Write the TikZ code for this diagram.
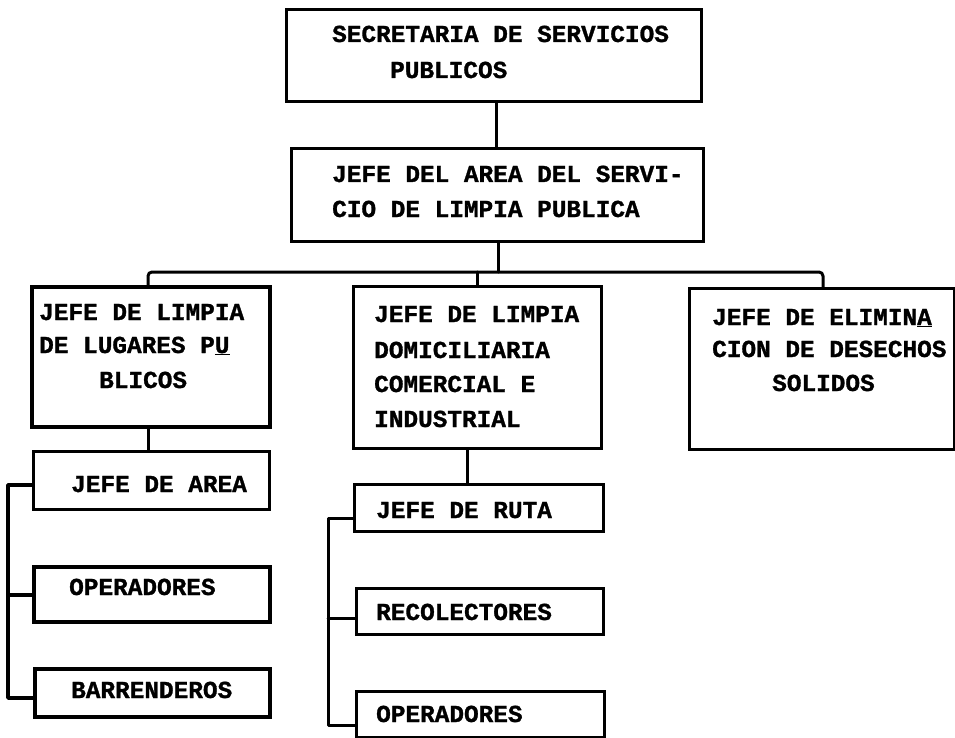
\documentclass[tikz,border=0pt]{standalone}
\usepackage{fontspec}
\setmonofont{Liberation Mono}[BoldFeatures={FakeBold=1.2}]
\begin{document}
\begin{tikzpicture}[x=1pt,y=-1pt,
  box/.style={draw, line width=2.8pt, inner sep=0pt, anchor=north west},
  heavy/.style={line width=3.8pt},
  lbl/.style={anchor=base west, inner sep=0pt, font=\fontsize{24.4}{30}\ttfamily\bfseries},
  conn/.style={line width=3pt, line cap=round, line join=round}]
\useasboundingbox (0,0) rectangle (955,738);
\clip (0,0) rectangle (955,738);
% boxes
\node[box, minimum width=415pt, minimum height=92pt] (b1) at (285,8) {};
\node[box, minimum width=412pt, minimum height=93pt] (b2) at (290,147) {};
\node[box, heavy, minimum width=238pt, minimum height=140pt] (b3) at (30,285) {};
\node[box, minimum width=248pt, minimum height=162pt] (b4) at (352,285) {};
\node[box, minimum width=265pt, minimum height=161pt] (b5) at (688,287) {};
\node[box, minimum width=236pt, minimum height=58pt] (ja) at (32,450) {};
\node[box, heavy, minimum width=236pt, minimum height=55pt] (op1) at (32,565) {};
\node[box, heavy, minimum width=235pt, minimum height=48pt] (bar) at (33,667) {};
\node[box, minimum width=249pt, minimum height=47pt] (ruta) at (353,483) {};
\node[box, minimum width=247pt, minimum height=46pt] (rec) at (355,587) {};
\node[box, minimum width=248pt, minimum height=46pt] (op2) at (355,690) {};
% texts
\node[lbl] (t1a) at (332,42) {SECRETARIA DE SERVICIOS};
\node[lbl] (t1b) at (390,78) {PUBLICOS};
\node[lbl] (t2a) at (332,182) {JEFE DEL AREA DEL SERVI-};
\node[lbl] (t2b) at (332,217) {CIO DE LIMPIA PUBLICA};
\node[lbl] (t3a) at (39,320) {JEFE DE LIMPIA};
\node[lbl] (t3b) at (39,353) {DE LUGARES P\underline{U}};
\node[lbl] (t3c) at (99,388) {BLICOS};
\node[lbl] (t4a) at (374,322) {JEFE DE LIMPIA};
\node[lbl] (t4b) at (374,358) {DOMICILIARIA};
\node[lbl] (t4c) at (374,392) {COMERCIAL E};
\node[lbl] (t4d) at (374,427) {INDUSTRIAL};
\node[lbl] (t5a) at (712,325) {JEFE DE ELIMIN\underline{A}};
\node[lbl] (t5b) at (712,357) {CION DE DESECHOS};
\node[lbl] (t5c) at (772,391) {SOLIDOS};
\node[lbl] (tja) at (71,492) {JEFE DE AREA};
\node[lbl] (top1) at (69,595) {OPERADORES};
\node[lbl] (tbar) at (71,698) {BARRENDEROS};
\node[lbl] (truta) at (376,518) {JEFE DE RUTA};
\node[lbl] (trec) at (376,620) {RECOLECTORES};
\node[lbl] (top2) at (376,722) {OPERADORES};
% helper coordinates
\coordinate (x1) at (496,0);
\coordinate (x2) at (498,0);
\coordinate (xL) at (148,0);
\coordinate (xM) at (477,0);
\coordinate (xR) at (823,0);
\coordinate (x4) at (467,0);
\coordinate (bus) at (0,272);
\coordinate (brL) at (8,0);
\coordinate (brM) at (328,0);
\coordinate (ya) at (0,485);
\coordinate (yb) at (0,595);
\coordinate (yc) at (0,698);
\coordinate (yd) at (0,518);
\coordinate (ye) at (0,618);
\coordinate (yf) at (0,725);
% connectors
\draw[conn] (b1.south -| x1) -- (b2.north -| x1);
\draw[conn] (b2.south -| x2) -- (bus -| x2);
\draw[conn, rounded corners=4pt] (b3.north -| xL) -- (bus -| xL) -- (bus -| xR) -- (b5.north -| xR);
\draw[conn] (bus -| xM) -- (b4.north -| xM);
\draw[conn] (b3.south -| xL) -- (ja.north -| xL);
\draw[conn, heavy] (ja.west |- ya) -- (brL |- ya) -- (brL |- yc) -- (bar.west |- yc);
\draw[conn, heavy] (brL |- yb) -- (op1.west |- yb);
\draw[conn] (b4.south -| x4) -- (ruta.north -| x4);
\draw[conn] (ruta.west |- yd) -- (brM |- yd) -- (brM |- yf) -- (op2.west |- yf);
\draw[conn] (brM |- ye) -- (rec.west |- ye);
\end{tikzpicture}
\end{document}
